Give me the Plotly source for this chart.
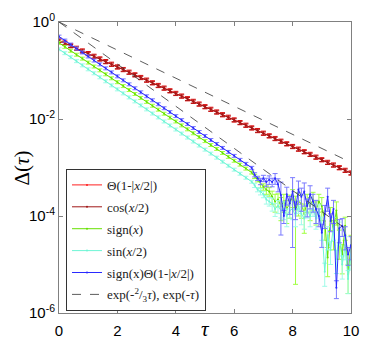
import plotly.graph_objects as go

# tau grid for the two red series
tau = [0.0, 0.2, 0.4, 0.6, 0.8, 1.0, 1.2, 1.4, 1.6, 1.8, 2.0, 2.2, 2.4, 2.6, 2.8,
       3.0, 3.2, 3.4, 3.6, 3.8, 4.0, 4.2, 4.4, 4.6, 4.8, 5.0, 5.2, 5.4, 5.6, 5.8,
       6.0, 6.2, 6.4, 6.6, 6.8, 7.0, 7.2, 7.4, 7.6, 7.8, 8.0, 8.2, 8.4, 8.6, 8.8,
       9.0, 9.2, 9.4, 9.6, 9.8, 10.0]

# tau grid for the three fast-decaying series (finer where the noise starts)
tau_low = [0.0, 0.2, 0.4, 0.6, 0.8, 1.0, 1.2, 1.4, 1.6, 1.8, 2.0, 2.2, 2.4, 2.6,
           2.8, 3.0, 3.2, 3.4, 3.6, 3.8, 4.0, 4.2, 4.4, 4.6, 4.8, 5.0, 5.2, 5.4,
           5.6, 5.8, 6.0, 6.2, 6.4, 6.6,
           6.7, 6.8, 6.9, 7.0, 7.1, 7.2, 7.3, 7.4, 7.5, 7.6, 7.7, 7.8, 7.9, 8.0,
           8.1, 8.2, 8.3, 8.4, 8.5, 8.6, 8.7, 8.8, 8.9, 9.0, 9.1, 9.2, 9.3, 9.4,
           9.5, 9.6, 9.7, 9.8, 9.9, 10.0]

theta = [0.420, 0.370, 0.326, 0.288, 0.254, 0.224, 0.197, 0.174, 0.153, 0.135,
         0.119, 0.105, 0.0926, 0.0817, 0.0720, 0.0635, 0.0560, 0.0493, 0.0435,
         0.0383, 0.0338, 0.0298, 0.0263, 0.0232, 0.0204, 0.0180, 0.0159, 0.0140,
         0.0123, 0.0109, 0.00960, 0.00846, 0.00746, 0.00657, 0.00580, 0.00511,
         0.00451, 0.00397, 0.00350, 0.00309, 0.00272, 0.00240, 0.00212, 0.00187,
         0.00164, 0.00145, 0.00128, 0.00113, 0.000994, 0.000877, 0.000773]

cosx = [0.412, 0.366, 0.321, 0.285, 0.250, 0.221, 0.195, 0.171, 0.151, 0.133,
        0.117, 0.104, 0.0912, 0.0806, 0.0710, 0.0627, 0.0552, 0.0487, 0.0429,
        0.0378, 0.0333, 0.0294, 0.0259, 0.0229, 0.0201, 0.0178, 0.0157, 0.0138,
        0.0122, 0.0107, 0.00948, 0.00835, 0.00737, 0.00649, 0.00572, 0.00505,
        0.00445, 0.00392, 0.00346, 0.00305, 0.00269, 0.00237, 0.00209, 0.00184,
        0.00162, 0.00143, 0.00126, 0.00111, 0.000982, 0.000866, 0.000763]

signx = [0.372, 0.308, 0.256, 0.212, 0.176, 0.146, 0.121, 0.101, 0.0836, 0.0693,
         0.0575, 0.0478, 0.0396, 0.0329, 0.0273, 0.0226, 0.0188, 0.0156, 0.0129,
         0.0107, 0.00891, 0.00740, 0.00614, 0.00509, 0.00423, 0.00351, 0.00291,
         0.00242, 0.00200, 0.00166, 0.00138, 0.00115, 0.000951, 0.000789,
         6.6e-4, 5.6e-4, 4.5e-4, 4.0e-4, 3.5e-4, 3.2e-4, 2.5e-4, 2.0e-4, 2.2e-4,
         1.6e-4, 2.0e-4, 1.4e-4, 1.8e-4, 2.5e-4, 1.3e-4, 2.0e-4, 1.8e-4, 1.1e-4,
         2.0e-4, 1.6e-4, 2.2e-4, 1.3e-4, 2.0e-4, 1.6e-4, 7.9e-5, 1.4e-5, 1.0e-4,
         5.0e-5, 1.3e-4, 3.2e-5, 1.6e-5, 6.3e-5, 6.3e-6, 2.5e-5]

sinx = [0.275, 0.228, 0.188, 0.156, 0.128, 0.106, 0.0877, 0.0725, 0.0600, 0.0495,
        0.0409, 0.0338, 0.0279, 0.0231, 0.0191, 0.0158, 0.0130, 0.0108, 0.00891,
        0.00736, 0.00608, 0.00502, 0.00415, 0.00344, 0.00284, 0.00234, 0.00194,
        0.00160, 0.00132, 0.00109, 0.000904, 0.000746, 0.000617, 0.000510,
        4.3e-4, 3.5e-4, 3.2e-4, 2.8e-4, 2.2e-4, 2.0e-4, 1.8e-4, 1.4e-4, 1.6e-4,
        1.3e-4, 1.4e-4, 1.0e-4, 1.3e-4, 1.4e-4, 1.0e-4, 1.6e-4, 1.1e-4, 8.9e-5,
        1.3e-4, 1.0e-4, 1.4e-4, 8.9e-5, 1.3e-4, 6.3e-5, 7.1e-6, 4.0e-5, 2.0e-5,
        6.3e-5, 1.3e-5, 5.0e-5, 1.0e-5, 2.5e-5, 5.0e-6, 1.6e-5]

signtheta = [0.501, 0.415, 0.344, 0.284, 0.236, 0.195, 0.161, 0.134, 0.111, 0.0916,
             0.0759, 0.0628, 0.0520, 0.0431, 0.0356, 0.0295, 0.0244, 0.0202, 0.0167,
             0.0139, 0.0115, 0.00951, 0.00787, 0.00652, 0.00540, 0.00447, 0.00370,
             0.00306, 0.00254, 0.00210, 0.00174, 0.00144, 0.00119, 0.000986,
             7.1e-4, 6.0e-4, 5.2e-4, 6.0e-4, 5.0e-4, 5.6e-4, 5.0e-4, 6.0e-4, 4.5e-4,
             2.7e-4, 1.0e-4, 2.8e-4, 1.8e-4, 3.2e-4, 1.4e-4, 3.5e-4, 2.5e-4, 3.2e-4,
             1.6e-4, 2.8e-4, 2.0e-4, 1.4e-4, 1.0e-4, 4.5e-5, 1.1e-4, 2.5e-4, 7.9e-5,
             1.4e-4, 3.3e-6, 5.6e-5, 6.3e-5, 4.0e-5, 1.6e-5, 2.5e-5]

# relative error bars in the noisy tail (tau 6.7 .. 10.0)
rel_sign = [0.1, 0.1, 0.15, 0.15, 0.2, 0.2, 0.3, 0.4, 0.3, 0.5, 0.4, 0.5, 0.5,
            0.4, 0.97, 0.5, 0.5, 0.6, 0.4, 0.5, 0.4, 0.5, 0.4, 0.5, 0.6, 0.6, 0.5,
            0.6, 0.5, 0.6, 0.6, 0.5, 0.6, 0.6]
rel_sin = [0.1, 0.1, 0.15, 0.15, 0.2, 0.2, 0.3, 0.3, 0.3, 0.3, 0.4, 0.4, 0.3,
           0.4, 0.4, 0.3, 0.4, 0.4, 0.3, 0.4, 0.3, 0.4, 0.3, 0.5, 0.5, 0.5, 0.5,
           0.5, 0.5, 0.5, 0.5, 0.5, 0.5, 0.5]
rel_signtheta = [0.1, 0.1, 0.15, 0.15, 0.2, 0.2, 0.2, 0.25, 0.3, 0.85, 0.3, 0.4,
                 0.4, 0.93, 0.4, 0.5, 0.5, 0.5, 0.4, 0.5, 0.4, 0.5, 0.4, 0.5, 0.5,
                 0.5, 0.4, 0.5, 0.4, 0.5, 0.4, 0.5, 0.4, 0.5]

exp_tau = [0.0, 10.0]
exp_slow = [1.0, 1.27e-3]   # exp(-2/3 tau)
exp_fast = [1.0, 4.54e-5]   # exp(-tau)

serif = "Liberation Serif"
sans = "Liberation Sans"


def errors(vals, tail_rel, smooth_rel=0.07):
    rel = [smooth_rel] * (len(vals) - len(tail_rel)) + tail_rel
    return [v * r for v, r in zip(vals, rel)]


def series(x, y, err, name, color, errcolor, group):
    return go.Scatter(
        x=x, y=y, name=name, mode="lines+markers",
        line=dict(color=color, width=1),
        marker=dict(color=color, size=2),
        error_y=dict(type="data", array=err, color=errcolor, thickness=1, width=2.5),
        legendgroup=group,
    )


fig = go.Figure()
fig.add_trace(series(tau, theta, [v * 0.1 for v in theta],
                     "\u0398(1-|<i>x</i>/2|)", "#ff2020", "#e01010", "a"))
fig.add_trace(series(tau, cosx, [v * 0.07 for v in cosx],
                     "cos(<i>x</i>/2)", "#a01818", "#b01818", "b"))
fig.add_trace(series(tau_low, signx, errors(signx, rel_sign),
                     "sign(<i>x</i>)", "#66e000", "#a0ff40", "c"))
fig.add_trace(series(tau_low, sinx, errors(sinx, rel_sin),
                     "sin(<i>x</i>/2)", "#6ff5d5", "#9ffbe8", "d"))
fig.add_trace(series(tau_low, signtheta, errors(signtheta, rel_signtheta),
                     "sign(x)\u0398(1-|<i>x</i>/2|)", "#2a2aff", "#7a7aff", "e"))
fig.add_trace(go.Scatter(
    x=exp_tau, y=exp_slow, mode="lines",
    line=dict(color="#333333", width=0.8, dash="dash"),
    name="exp(-<sup>2</sup>/<sub>3</sub><i>\u03c4</i>), exp(-<i>\u03c4</i>)",
    legendgroup="f",
))
fig.add_trace(go.Scatter(
    x=exp_tau, y=exp_fast, mode="lines",
    line=dict(color="#333333", width=0.8, dash="dash"),
    showlegend=False, legendgroup="f",
))

axis_common = dict(
    showline=True, linecolor="#808080", linewidth=1, mirror="ticks",
    ticks="inside", ticklen=4, tickcolor="#808080", showgrid=False,
    zeroline=False, automargin=False,
    tickfont=dict(family=sans, size=15, color="black"),
)

# the page body adds an 8px offset, so the figure is 8px smaller each way
fig.update_layout(
    width=374, height=338,
    margin=dict(l=51, r=31, t=14, b=33),
    paper_bgcolor="white", plot_bgcolor="white",
    xaxis=dict(range=[0, 10], tickvals=[0, 2, 4, 6, 8, 10], ticklabelstandoff=4,
               **axis_common),
    yaxis=dict(type="log", range=[-6, 0], tickvals=[1, 1e-2, 1e-4, 1e-6],
               ticktext=["10<sup>0</sup>", "10<sup>-2</sup>", "10<sup>-4</sup>",
                         "10<sup>-6</sup>"], **axis_common),
    legend=dict(
        x=0.024, y=0.495, xanchor="left", yanchor="top",
        bgcolor="white", bordercolor="#333333", borderwidth=1,
        font=dict(family=serif, size=13, color="#222222"),
        tracegroupgap=2,
    ),
    annotations=[
        dict(text="\u0394(<i>\u03c4</i>)", x=-0.127, y=0.5, xref="paper", yref="paper",
             xanchor="center", yanchor="middle", textangle=-90, showarrow=False,
             font=dict(family=serif, size=21, color="black")),
        dict(text="<i>\u03c4</i>", x=0.5, y=-0.055, xref="paper", yref="paper",
             xanchor="center", yanchor="middle", showarrow=False,
             font=dict(family=serif, size=21, color="black")),
    ],
)

fig.write_html("out.html")
